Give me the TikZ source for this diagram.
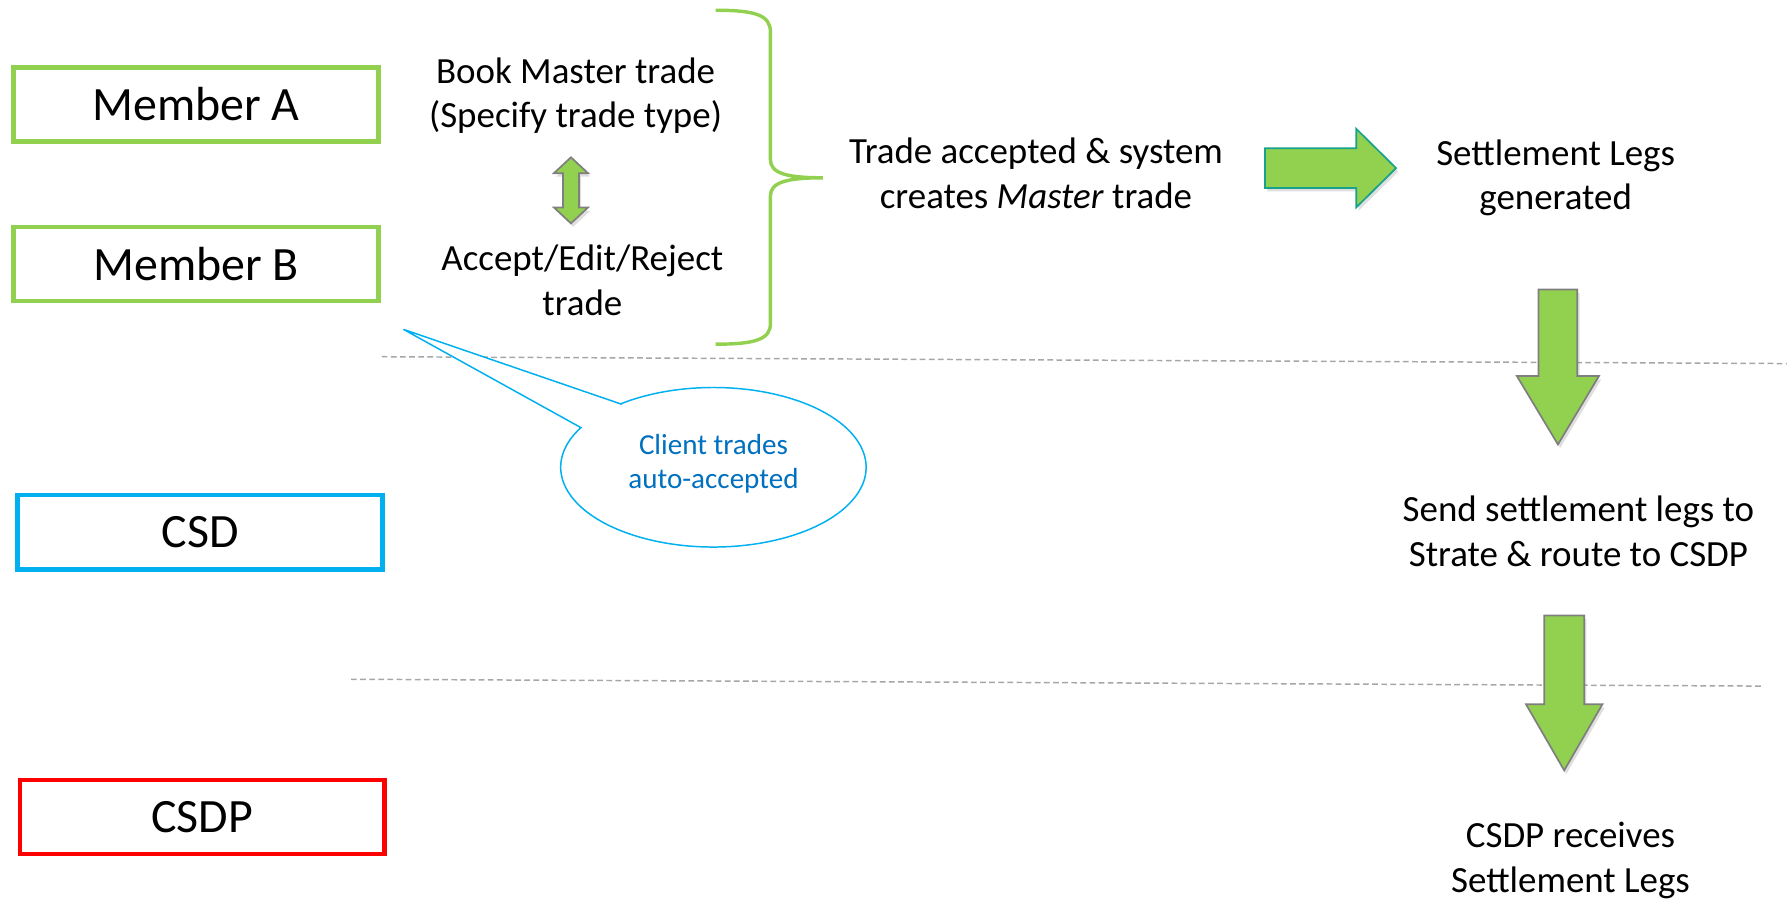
\documentclass[tikz,border=0pt]{standalone}
\usepackage{fontspec}
\setmainfont{Carlito}
\usetikzlibrary{shadows}
\definecolor{lgreen}{HTML}{92D050}
\definecolor{cblue}{HTML}{00B0F0}
\definecolor{cred}{HTML}{FF0000}
\definecolor{tblue}{HTML}{0070C0}
\definecolor{tealline}{HTML}{17A28E}
\definecolor{dgray}{HTML}{7F7F7F}
\definecolor{lgray}{HTML}{A6A6A6}
\begin{document}
\begin{tikzpicture}[x=1pt,y=-1pt,
  member/.style={draw=#1, line width=4pt, minimum width=320pt, minimum height=65pt,
                 inner sep=0pt, font=\fontsize{42}{50}\selectfont},
  txt/.style={align=center, inner sep=0pt, font=\fontsize{32.4}{39}\selectfont},
  blockarrow/.style={fill=lgreen, draw=#1, line width=1.5pt, line join=miter,
                     drop shadow={opacity=0.25, shadow xshift=2pt, shadow yshift=-3pt}},
  divider/.style={lgray, line width=1.3pt, dash pattern=on 5pt off 3pt},
  bracesty/.style={lgreen, line width=3pt}]
\useasboundingbox (0,0) rectangle (1568,790);

% dividers
\draw[divider] (335,313) -- (1568,319);
\draw[divider] (308,596) -- (1547,602);

% actor boxes
\node[member=lgreen] (ma) at (172,91.5) {Member A};
\node[member=lgreen] (mb) at (172,231.5) {Member B};
\node[member=cblue] (csd) at (175.5,467) {CSD};
\node[member=cred] (csdp) at (177.5,717) {CSDP};

% texts
\node[txt] (book) at (505,84) {Book Master trade\\(Specify trade type)};
\node[txt] (accept) at (511,246) {Accept/Edit/Reject\\trade};
\node[txt] (created) at (909,152) {Trade accepted \& system\\creates \textit{Master} trade};
\node[txt] (legs) at (1365,156) {Settlement Legs\\generated};
\node[txt] (send) at (1385,466) {Send settlement legs to\\Strate \& route to CSDP};
\node[txt] (recv) at (1378,755) {CSDP receives\\Settlement Legs};

% double arrow between book and accept
\draw[blockarrow=dgray] (501,138) -- (516,152) -- (508,152) -- (508,182) -- (516,182)
  -- (501,196) -- (486,182) -- (494,182) -- (494,152) -- (486,152) -- cycle;

% brace
\draw[bracesty] (628,9) .. controls (662,9) and (676,13) .. (676,28) -- (676,140)
  .. controls (676,152) and (690,156) .. (722,156)
  .. controls (690,156) and (676,160) .. (676,172) -- (676,284)
  .. controls (676,298) and (662,302) .. (628,302);

% right arrow
\draw[blockarrow=tealline] (1110,130) -- (1190,130) -- (1190,113) -- (1225,147.5)
  -- (1190,182) -- (1190,165) -- (1110,165) -- cycle;

% down arrows
\draw[blockarrow=dgray] (1350,254) -- (1384,254) -- (1384,330) -- (1403,330)
  -- (1367,390) -- (1331,330) -- (1350,330) -- cycle;
\draw[blockarrow=dgray] (1355,540) -- (1390,540) -- (1390,618) -- (1406,618)
  -- (1372.5,676) -- (1339,618) -- (1355,618) -- cycle;

% callout
\coordinate (ctip) at (354,289);
\draw[cblue, line width=1.3pt, fill=white] (544.6,354.4) -- (ctip) -- (509.7,375.2)
  arc[start angle=209.8, end angle=-127.4, x radius=134, y radius=70] -- cycle;
\node[align=center, inner sep=0pt, text=tblue, font=\fontsize{25.5}{30}\selectfont]
  (client) at (626,407) {Client trades\\auto-accepted};
\end{tikzpicture}
\end{document}
